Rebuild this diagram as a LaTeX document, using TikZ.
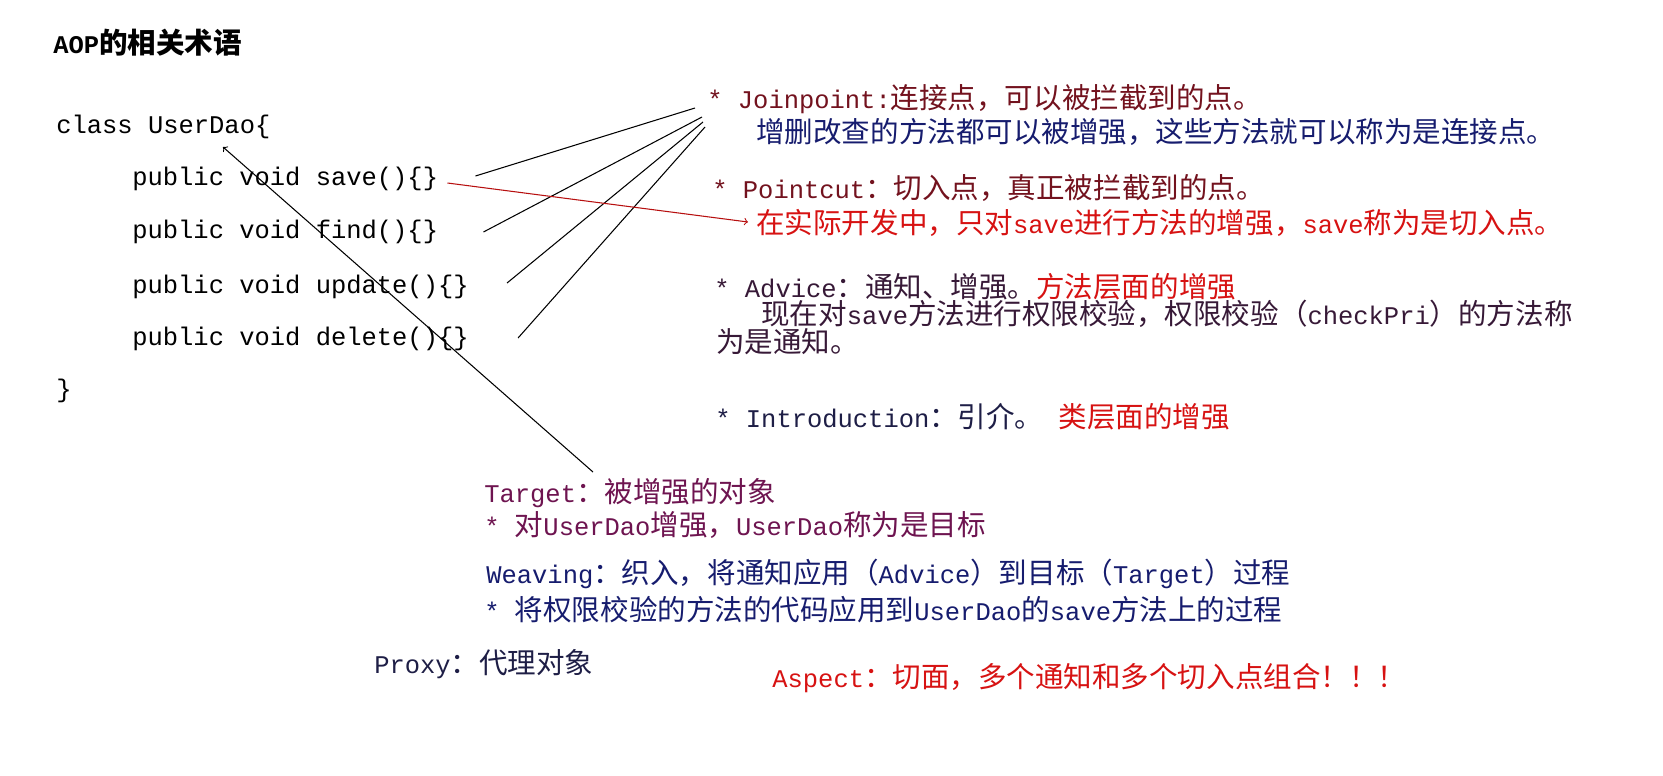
\documentclass[tikz,border=0pt]{standalone}
\usepackage{fontspec}
\setmainfont{Liberation Mono}
\newfontfamily\cjk[Scale=1.12]{Noto Sans CJK SC}
\usepackage{xcolor}
\usepackage{tikz}
\usetikzlibrary{arrows, calc}
\definecolor{aopmaroon}{RGB}{115,18,30}
\definecolor{aopbrown}{RGB}{55,25,55}
\definecolor{aopnavy}{RGB}{22,28,110}
\definecolor{aopred}{RGB}{215,18,18}
\definecolor{aopplum}{RGB}{110,20,80}
\definecolor{aopdark}{RGB}{30,30,70}
\newcommand{\zh}[1]{{\cjk #1}}
\tikzstyle{code} = [anchor=base west, inner sep=0pt, font=\fontsize{14.5}{16}\selectfont, text=black]
\tikzstyle{term} = [anchor=base west, inner sep=0pt, font=\fontsize{14.5}{16}\selectfont]
\tikzstyle{link} = [line width=0.6pt, black]
\tikzstyle{pointer} = [line width=0.6pt, ->, >=to]

\begin{document}
\begin{tikzpicture}[x=0.02cm, y=-0.02cm]
\useasboundingbox [fill=white] (0,0) rectangle (1663,775);

% left: the class
\node (title) [code, font=\bfseries\fontsize{14.5}{16}\selectfont] at (53,53) {AOP\zh{\bfseries 的相关术语}};
\node (cls) [code] at (56,133) {class UserDao\{};
\node (save) [code] at (132,185) {public void save()\{\}};
\node (find) [code] at (132,238) {public void find()\{\}};
\node (update) [code] at (132,293) {public void update()\{\}};
\node (delete) [code] at (132,345) {public void delete()\{\}};
\node (close) [code] at (56,397) {\}};

% right: the terms
\node (jp) [term, text=aopmaroon] at (707,108) {* Joinpoint:\zh{连接点，可以被拦截到的点。}};
\node (jpnote) [term, text=aopnavy] at (756,142) {\zh{增删改查的方法都可以被增强，这些方法就可以称为是连接点。}};
\node (pc) [term, text=aopmaroon] at (712,198) {* Pointcut\zh{：切入点，真正被拦截到的点。}};
\node (pcnote) [term, text=aopred] at (756,233) {\zh{在实际开发中，只对}save\zh{进行方法的增强，}save\zh{称为是切入点。}};
\node (adv) [term, text=aopbrown] at (714,297) {* Advice\zh{：通知、增强。}\textcolor{aopred}{\zh{方法层面的增强}}};
\node (advnote) [term, text=aopbrown, text depth=1pt] at (761,324) {\zh{现在对}save\zh{方法进行权限校验，权限校验（}checkPri\zh{）的方法称}};
\node (advnote2) [term, text=aopbrown, text height=11pt] at (716,352) {\zh{为是通知。}};
\node (intro) [term, text=aopdark] at (715,427) {* Introduction\zh{：引介。} \textcolor{aopred}{\zh{类层面的增强}}};

% bottom
\node (tgt) [term, text=aopplum] at (484,502) {Target\zh{：被增强的对象}};
\node (tgtnote) [term, text=aopplum] at (484,535) {* \zh{对}UserDao\zh{增强，}UserDao\zh{称为是目标}};
\node (weave) [term, text=aopnavy] at (486,583) {Weaving\zh{：织入，将通知应用（}Advice\zh{）到目标（}Target\zh{）过程}};
\node (weavenote) [term, text=aopnavy] at (484,620) {* \zh{将权限校验的方法的代码应用到}UserDao\zh{的}save\zh{方法上的过程}};
\node (proxy) [term, text=aopdark] at (374,673) {Proxy\zh{：代理对象}};
\node (aspect) [term, text=aopred] at (772,687) {Aspect\zh{：切面，多个通知和多个切入点组合！！！}};

% joinpoints
\draw [link] ($(save.base east)+(37,-9)$) -- ($(jp.base west)+(-12,0)$);
\draw [link] ($(find.base east)+(45,-6)$) -- ($(jp.base west)+(-5,9)$);
\draw [link] ($(update.base east)+(38,-10)$) -- ($(jp.base west)+(-4,14)$);
\draw [link] ($(delete.base east)+(49,-7)$) -- ($(jp.base west)+(-2,19)$);

% pointcut and target
\draw [pointer, aopred!85!black] ($(save.base east)+(9,-2)$) -- ($(pcnote.base west)+(-8,-11)$);
\draw [pointer] ($(tgt.base west)+(109,-30)$) -- ($(cls.base west)+(167,14)$);

\end{tikzpicture}
\end{document}
